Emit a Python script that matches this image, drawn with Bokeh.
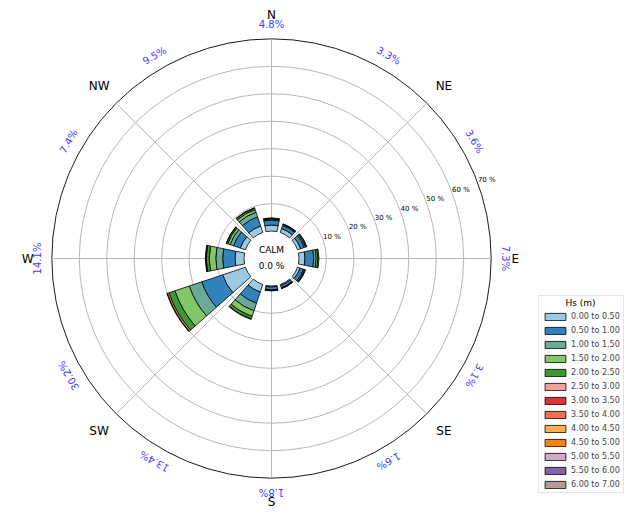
import math
from bokeh.plotting import figure
from bokeh.models import Range1d, Legend, LegendItem, ColumnDataSource, Label
from bokeh.core.properties import value
from bokeh.embed import file_html
from bokeh.resources import INLINE

# ---------------- data ----------------
directions = [0, 30, 60, 90, 120, 150, 180, 210, 240, 270, 300, 330]
hs_labels = ["0.00 to 0.50", "0.50 to 1.00", "1.00 to 1.50", "1.50 to 2.00",
             "2.00 to 2.50", "2.50 to 3.00", "3.00 to 3.50", "3.50 to 4.00",
             "4.00 to 4.50", "4.50 to 5.00", "5.00 to 5.50", "5.50 to 6.00",
             "6.00 to 7.00"]
hs_000_050 = [2.2, 1.5, 1.2, 2.2, 1.0, 0.4, 0.4, 2.9, 8.8, 3.3, 2.0, 2.5]
hs_050_100 = [1.8, 1.2, 1.4, 3.2, 1.3, 0.8, 1.0, 4.3, 8.0, 4.5, 2.6, 3.5]
hs_100_150 = [0.4, 0.3, 0.5, 0.9, 0.4, 0.2, 0.2, 2.9, 4.8, 2.5, 1.3, 1.8]
hs_150_200 = [0.2, 0.2, 0.3, 0.6, 0.2, 0.1, 0.1, 2.1, 5.5, 2.4, 0.9, 1.0]
hs_200_250 = [0.2, 0.1, 0.2, 0.4, 0.2, 0.1, 0.1, 1.0, 2.3, 1.1, 0.5, 0.6]
hs_250_300 = [0.0, 0.0, 0.0, 0.0, 0.0, 0.0, 0.0, 0.2, 0.6, 0.2, 0.1, 0.1]
hs_300_350 = [0.0, 0.0, 0.0, 0.0, 0.0, 0.0, 0.0, 0.0, 0.2, 0.1, 0.0, 0.0]
hs_350_400 = [0.0] * 12
hs_400_450 = [0.0] * 12
hs_450_500 = [0.0] * 12
hs_500_550 = [0.0] * 12
hs_550_600 = [0.0] * 12
hs_600_700 = [0.0] * 12
calm_pct = 0.0
legend_title = "Hs (m)"
ring_pcts = [10, 20, 30, 40, 50, 60, 70]
compass_names = ["N", "NE", "E", "SE", "S", "SW", "W", "NW"]
compass_angles = [0, 45, 90, 135, 180, 225, 270, 315]

series = [hs_000_050, hs_050_100, hs_100_150, hs_150_200, hs_200_250,
          hs_250_300, hs_300_350, hs_350_400, hs_400_450, hs_450_500,
          hs_500_550, hs_550_600, hs_600_700]

# ---------------- style ----------------
colors = ["#9ecae1", "#3182bd", "#6aaa96", "#84c768", "#3c9a2e", "#f4a09b",
          "#e0303a", "#f0714c", "#fdae53", "#fd8310", "#ccaac8", "#8460ad",
          "#b39c98"]
FONT_NAME = "DejaVu Sans"
FONT = value(FONT_NAME)
HOLE = 10.0          # radius of calm hole in data units
BAR_W = 23.0         # wedge width in degrees
PX = 2.86 * 0.96     # pixels per data unit
W, H = 624, 510
CX, CY = 271, 258    # centre in figure pixels

p = figure(width=W, height=H,
           x_range=Range1d(-CX / PX, (W - CX) / PX),
           y_range=Range1d(-(H - CY) / PX, CY / PX),
           output_backend="svg", toolbar_location=None,
           x_axis_location=None, y_axis_location=None, min_border=0)
p.grid.visible = False
p.outline_line_color = None
p.background_fill_color = "white"

# grid rings
ring_r = [HOLE + r for r in ring_pcts]
ring_col = ["#b0b0b0"] * (len(ring_r) - 1) + ["black"]
p.circle(x=[0] * len(ring_r), y=[0] * len(ring_r), radius=ring_r,
         fill_color=None, line_color=ring_col, line_width=0.9)

# radial lines
outer = HOLE + ring_pcts[-1]
x0 = [HOLE * math.sin(math.radians(a)) for a in compass_angles]
y0 = [HOLE * math.cos(math.radians(a)) for a in compass_angles]
x1 = [outer * math.sin(math.radians(a)) for a in compass_angles]
y1 = [outer * math.cos(math.radians(a)) for a in compass_angles]
p.segment(x0=x0, y0=y0, x1=x1, y1=y1, line_color="#b0b0b0", line_width=0.9)

# ring labels
lab_a = math.radians(20)
p.text(x=[(HOLE + r) * math.cos(lab_a) for r in ring_pcts],
       y=[(HOLE + r) * math.sin(lab_a) for r in ring_pcts],
       text=[f"{r} %" for r in ring_pcts], text_font=FONT,
       text_font_size="7px", text_align="left", text_baseline="middle",
       y_offset=-3, text_color="#000000")

# stacked wedges
cum = [0.0] * len(directions)
items = []
for vals, lab, col in zip(series, hs_labels, colors):
    inner_r, outer_r, sa, ea = [], [], [], []
    for i, d in enumerate(directions):
        v = vals[i]
        if v > 0:
            inner_r.append(HOLE + cum[i])
            outer_r.append(HOLE + cum[i] + v)
            sa.append(math.radians(90 - d - BAR_W / 2))
            ea.append(math.radians(90 - d + BAR_W / 2))
        cum[i] += v
    src = ColumnDataSource(dict(x=[0] * len(sa), y=[0] * len(sa),
                                ir=inner_r, orr=outer_r, sa=sa, ea=ea))
    p.annular_wedge(x="x", y="y", inner_radius="ir", outer_radius="orr",
                    start_angle="sa", end_angle="ea", source=src,
                    fill_color=col, line_color="black", line_width=0.8)
    # legend proxy (not drawn: NaN position)
    proxy = p.rect(x=[float("nan")], y=[float("nan")], width=[1], height=[1],
                   fill_color=col, line_color="black", line_width=0.8)
    items.append(LegendItem(label=lab, renderers=[proxy]))

# percent labels per direction
RP = 244 * 0.96 / PX
p.text(x=[RP * math.sin(math.radians(d)) for d in directions],
       y=[RP * math.cos(math.radians(d)) for d in directions],
       text=[f"{c:.1f}%" for c in cum],
       angle=[-math.radians(d) for d in directions],
       text_font=FONT, text_font_size="10px", text_color="#3c3cff",
       text_align="center", text_baseline="middle")

# compass labels
RC = 254 * 0.96 / PX
p.text(x=[RC * math.sin(math.radians(a)) for a in compass_angles],
       y=[RC * math.cos(math.radians(a)) for a in compass_angles],
       text=compass_names, text_font=FONT, text_font_size="12px",
       text_color="black", text_align="center", text_baseline="middle")

# calm label
p.text(x=[0, 0], y=[8.5 / PX, -7 / PX], text=["CALM", f"{calm_pct:.1f} %"],
       text_font=FONT, text_font_size="9px", text_color="black",
       text_align="center", text_baseline="middle")

LEG_X, LEG_Y = 538, 17
legend = Legend(items=items, location=(LEG_X, LEG_Y), title="\u00a0",
                title_text_font=FONT_NAME, title_text_font_size="9px",
                title_text_font_style="normal", title_standoff=3,
                label_text_font=FONT_NAME, label_text_font_size="8px",
                label_standoff=3, glyph_width=26, glyph_height=9,
                label_height=8, spacing=5, padding=3, margin=0,
                border_line_color="#cccccc", border_line_width=1,
                background_fill_alpha=0.0)
p.add_layout(legend, "center")

# centred legend title
p.add_layout(Label(x=LEG_X + 42, y=208, x_units="screen", y_units="screen",
                   text=legend_title, text_font=FONT_NAME,
                   text_font_size="9px", text_align="center",
                   text_baseline="middle", text_color="black",
                   level="overlay"))

open("out.html", "w").write(file_html(p, INLINE))
